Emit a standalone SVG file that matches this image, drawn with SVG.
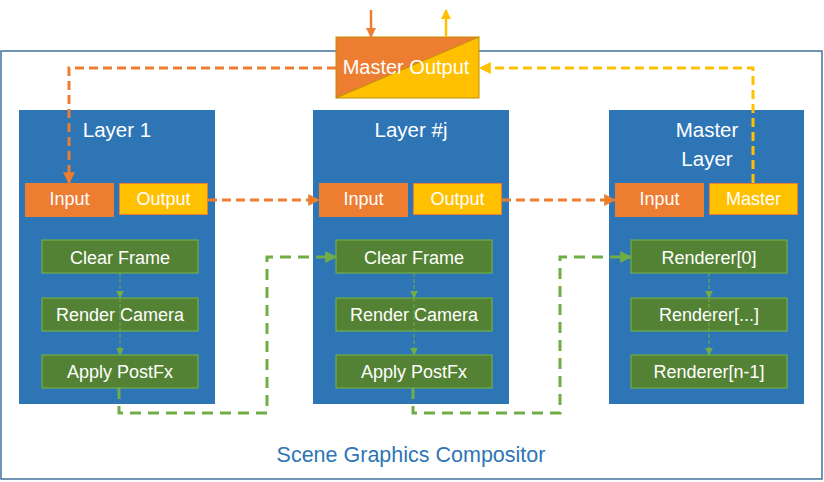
<svg xmlns="http://www.w3.org/2000/svg" width="824" height="482" viewBox="0 0 824 482">
<style>
text{font-family:"Liberation Sans",Arial,sans-serif;fill:#fff;text-anchor:middle}
.layer{fill:#2E75B6}
.in{fill:#ED7D31}
.out{fill:#FFC000;stroke:#ED7D31;stroke-width:1}
.step{fill:#548235;stroke:#70AD47;stroke-width:1.2}
.lt{font-size:20.5px}
.pt{font-size:18px}
.st{font-size:18px}
.od{fill:none;stroke:#ED7D31;stroke-width:3;stroke-dasharray:9 5}
.yd{fill:none;stroke:#FFC000;stroke-width:3;stroke-dasharray:9 5}
.gd{fill:none;stroke:#70AD47;stroke-width:3;stroke-dasharray:11 7}
.gs{fill:none;stroke:#70AD47;stroke-width:1;stroke-dasharray:4 2}
</style>
<defs>
<marker id="ao" viewBox="0 0 10 10" refX="9" refY="5" markerWidth="4" markerHeight="4" orient="auto" markerUnits="strokeWidth"><path d="M0,0 L10,5 L0,10 z" fill="#ED7D31"/></marker>
<marker id="ay" viewBox="0 0 10 10" refX="9" refY="5" markerWidth="4" markerHeight="4" orient="auto" markerUnits="strokeWidth"><path d="M0,0 L10,5 L0,10 z" fill="#FFC000"/></marker>
<marker id="ag" viewBox="0 0 10 10" refX="9" refY="5" markerWidth="4" markerHeight="4" orient="auto" markerUnits="strokeWidth"><path d="M0,0 L10,5 L0,10 z" fill="#70AD47"/></marker>
<marker id="ags" viewBox="0 0 10 10" refX="9" refY="5" markerWidth="8" markerHeight="8" orient="auto" markerUnits="strokeWidth"><path d="M0,0 L10,5 L0,10 z" fill="#70AD47"/></marker>
</defs>
<g id="frame">
<rect x="1" y="51" width="821" height="428" fill="#fff" stroke="#41719C" stroke-width="1.5"/>
<text x="411" y="462" style="font-size:21.5px;fill:#2E75B6">Scene Graphics Compositor</text>
</g>
<g id="layer1">
<rect class="layer" x="19" y="110" width="196" height="294"/>
<text class="lt" x="117" y="137">Layer 1</text>
<rect class="in" x="25" y="183" width="89" height="34"/>
<text class="pt" x="69.5" y="205">Input</text>
<rect class="out" x="119.5" y="183.5" width="88" height="31"/>
<text class="pt" x="163.5" y="205">Output</text>
<rect class="step" x="42" y="240" width="156" height="33"/>
<text class="st" x="120" y="264">Clear Frame</text>
<rect class="step" x="42" y="298" width="156" height="33"/>
<text class="st" x="120" y="321">Render Camera</text>
<rect class="step" x="42" y="355" width="156" height="33"/>
<text class="st" x="120" y="378">Apply PostFx</text>
</g>
<g id="layerj">
<rect class="layer" x="313" y="110" width="196" height="294"/>
<text class="lt" x="411" y="137">Layer #j</text>
<rect class="in" x="319" y="183" width="89" height="34"/>
<text class="pt" x="363.5" y="205">Input</text>
<rect class="out" x="413.5" y="183.5" width="88" height="31"/>
<text class="pt" x="457.5" y="205">Output</text>
<rect class="step" x="336" y="240" width="156" height="33"/>
<text class="st" x="414" y="264">Clear Frame</text>
<rect class="step" x="336" y="298" width="156" height="33"/>
<text class="st" x="414" y="321">Render Camera</text>
<rect class="step" x="336" y="355" width="156" height="33"/>
<text class="st" x="414" y="378">Apply PostFx</text>
</g>
<g id="masterlayer">
<rect class="layer" x="609" y="110" width="195" height="294"/>
<text class="lt" x="707" y="137">Master</text>
<text class="lt" x="707" y="166">Layer</text>
<rect class="in" x="615" y="183" width="89" height="34"/>
<text class="pt" x="659.5" y="205">Input</text>
<rect class="out" x="709.5" y="183.5" width="88" height="31"/>
<text class="pt" x="753.5" y="205">Master</text>
<rect class="step" x="631" y="240" width="156" height="33"/>
<text class="st" x="709" y="264">Renderer[0]</text>
<rect class="step" x="631" y="298" width="156" height="33"/>
<text class="st" x="709" y="321">Renderer[...]</text>
<rect class="step" x="631" y="355" width="156" height="33"/>
<text class="st" x="709" y="378">Renderer[n-1]</text>
</g>
<g id="masteroutput">
<polygon points="336,37 479,37 336,98" fill="#ED7D31"/>
<polygon points="479,37 479,98 336,98" fill="#FFC000"/>
<line x1="336" y1="98" x2="479" y2="37" stroke="#BF9000" stroke-width="1"/>
<rect x="336" y="37" width="143" height="61" fill="none" stroke="#BF9000" stroke-width="1"/>
<text x="406" y="74" style="font-size:20px">Master Output</text>
</g>
<g id="connectors">
<line x1="371" y1="10" x2="371" y2="37" stroke="#ED7D31" stroke-width="2.5" marker-end="url(#ao)"/>
<line x1="446" y1="37" x2="446" y2="10" stroke="#FFC000" stroke-width="2.5" marker-end="url(#ay)"/>
<polyline class="od" points="336,68 69,68 69,183" marker-end="url(#ao)"/>
<polyline class="yd" points="753,183 753,68 480,68" marker-end="url(#ay)"/>
<line class="od" x1="208" y1="200" x2="319" y2="200" marker-end="url(#ao)"/>
<line class="od" x1="502" y1="200" x2="615" y2="200" marker-end="url(#ao)"/>
<polyline class="gd" points="119,388 119,413 267,413 267,257 336,257" marker-end="url(#ag)"/>
<polyline class="gd" points="413,388 413,413 560,413 560,257 631,257" marker-end="url(#ag)"/>
<line class="gs" x1="120" y1="273" x2="120" y2="298" marker-end="url(#ags)"/>
<line class="gs" x1="120" y1="298" x2="120" y2="355" marker-end="url(#ags)"/>
<line class="gs" x1="414" y1="273" x2="414" y2="298" marker-end="url(#ags)"/>
<line class="gs" x1="414" y1="298" x2="414" y2="355" marker-end="url(#ags)"/>
<line class="gs" x1="709" y1="273" x2="709" y2="298" marker-end="url(#ags)"/>
<line class="gs" x1="709" y1="298" x2="709" y2="355" marker-end="url(#ags)"/>
</g>
</svg>
